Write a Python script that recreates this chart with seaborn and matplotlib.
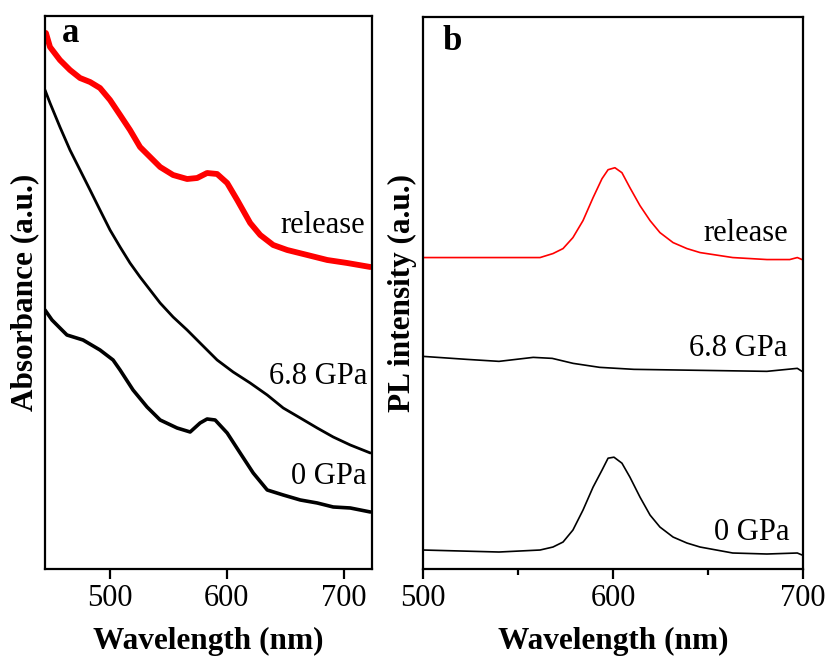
import matplotlib
matplotlib.use("Agg")
import matplotlib.pyplot as plt
import seaborn as sns
import pandas as pd
from matplotlib.ticker import MultipleLocator, FixedLocator

# ---------------- Data ----------------
# Panel a: absorbance (arbitrary units, offset spectra)
abs_release_wl = [445.1, 448.6, 457.1, 465.7, 474.3, 482.9, 491.4, 500.0, 508.6, 517.1,
                  525.7, 534.3, 542.9, 554.0, 566.0, 574.6, 583.1, 591.7, 600.3, 608.9,
                  620.0, 628.6, 639.7, 651.7, 668.9, 686.0, 703.1, 722.9]
abs_release = [536, 522, 509, 499, 491, 487, 481, 469, 454, 439,
               422, 412, 402, 394, 390, 391, 396, 395, 386, 369,
               346, 334, 324, 319, 314, 309, 306, 302]

abs_68_wl = [444.3, 448.6, 457.1, 465.7, 474.3, 482.9, 491.4, 500.0, 508.6, 517.1,
             525.7, 534.3, 542.9, 554.0, 566.0, 577.1, 591.7, 605.4, 620.0, 634.6,
             648.3, 662.9, 677.4, 691.1, 705.7, 722.9]
abs_68 = [479, 466, 442, 419, 399, 379, 359, 339, 322, 306,
          292, 279, 266, 252, 239, 226, 209, 197, 186, 174,
          161, 151, 141, 132, 124, 116]

abs_0_wl = [444.3, 450.3, 457.1, 463.1, 476.9, 491.4, 502.6, 508.6, 519.7, 531.7,
            542.9, 557.4, 568.6, 577.1, 583.1, 590.0, 600.3, 611.4, 622.6, 634.6,
            648.3, 662.9, 677.4, 691.1, 705.7, 722.9]
abs_0 = [259, 249, 241, 234, 229, 219, 209, 199, 179, 162,
         149, 141, 137, 146, 150, 149, 136, 116, 96, 79,
         74, 69, 66, 62, 61, 57]

# Panel b: PL intensity (arbitrary units, offset spectra)
pl_release_wl = [500, 523, 549.5, 561.6, 568.4, 573.7, 578.9, 584.2, 589.5, 594.2,
                 597.4, 601.0, 604.7, 608.9, 614.2, 619.5, 624.7, 631.6, 638.9, 645.8,
                 663, 681, 693, 697, 699.5]
pl_release = [312, 312, 312, 312, 316, 321, 332, 349, 372, 391,
              400, 402, 397, 382, 364, 349, 337, 327, 321, 317,
              312, 310, 310, 312, 310]

pl_68_wl = [500, 523, 540, 558, 568, 579, 593, 611, 646, 681, 697, 699.5]
pl_68 = [213, 210, 208, 212, 211, 206, 202, 200, 199, 198, 201, 198]

pl_0_wl = [500, 540, 561.6, 568.4, 573.7, 578.9, 584.2, 589.5, 594.2, 597.4,
           600.5, 604.7, 608.9, 614.2, 619.5, 624.7, 631.6, 638.9, 645.8,
           663, 681, 697, 699.5]
pl_0 = [19, 17, 19, 22, 27, 39, 59, 82, 99, 111,
        112, 106, 92, 72, 54, 42, 32, 26, 22,
        16, 15, 16, 14]

labels = ["release", "6.8 GPa", "0 GPa"]
xticks_a = [500, 600, 700]
xticks_b = [500, 600, 700]

# ---------------- Style ----------------
sns.set_style("ticks")
plt.rcParams["font.family"] = ["Liberation Serif", "DejaVu Serif"]
plt.rcParams["axes.linewidth"] = 1.6
plt.rcParams["text.color"] = "black"
plt.rcParams["axes.labelcolor"] = "black"
plt.rcParams["xtick.color"] = "black"
plt.rcParams["ytick.color"] = "black"

fig = plt.figure(figsize=(8.27, 6.59), dpi=100)
axa = fig.add_axes([0.0544, 0.1366, 0.3954, 0.8391])
axb = fig.add_axes([0.5115, 0.1366, 0.4595, 0.8376])

RED = "#ff0000"
BLACK = "#000000"

def draw(ax, wl, y, color, lw):
    df = pd.DataFrame({"wl": wl, "y": y})
    sns.lineplot(data=df, x="wl", y="y", ax=ax, color=color, lw=lw,
                 sort=False, estimator=None)

draw(axa, abs_release_wl, abs_release, RED, 4.2)
draw(axa, abs_68_wl, abs_68, BLACK, 2.0)
draw(axa, abs_0_wl, abs_0, BLACK, 2.6)

draw(axb, pl_release_wl, pl_release, RED, 1.2)
draw(axb, pl_68_wl, pl_68, BLACK, 1.2)
draw(axb, pl_0_wl, pl_0, BLACK, 1.2)

axa.set_xlim(444.3, 724.3)
axa.set_ylim(0, 553)
axb.set_xlim(500, 700)
axb.set_ylim(0, 553)

for ax in (axa, axb):
    for s in ax.spines.values():
        s.set_visible(True)
        s.set_linewidth(1.6)
        s.set_color("black")
    ax.set_yticks([])
    ax.set_xlabel("Wavelength (nm)", fontsize=22.5, fontweight="bold", labelpad=10)
    ax.tick_params(axis="x", which="major", direction="out", length=7, width=1.6,
                   labelsize=22, pad=4, colors="black")

axa.xaxis.set_major_locator(FixedLocator(xticks_a))
axb.xaxis.set_major_locator(FixedLocator(xticks_b))
axb.xaxis.set_minor_locator(MultipleLocator(50))
axb.tick_params(axis="x", which="minor", direction="out", length=4.5, width=1.6)

axa.set_ylabel("Absorbance (a.u.)", fontsize=22.5, fontweight="bold", labelpad=4)
axb.set_ylabel("PL intensity (a.u.)", fontsize=22.5, fontweight="bold", labelpad=4)

# curve labels
tfs = 22
axa.text(718.6, 344, labels[0], ha="right", va="center", fontsize=tfs)
axa.text(720, 192, labels[1], ha="right", va="center", fontsize=tfs)
axa.text(720, 92, labels[2], ha="right", va="center", fontsize=tfs)
axb.text(692, 336, labels[0], ha="right", va="center", fontsize=tfs)
axb.text(692, 221, labels[1], ha="right", va="center", fontsize=tfs)
axb.text(693, 37, labels[2], ha="right", va="center", fontsize=tfs)

# panel labels
axa.text(458.5, 536, "a", ha="left", va="center", fontsize=25, fontweight="bold")
axb.text(510, 528, "b", ha="left", va="center", fontsize=25, fontweight="bold")

fig.savefig("out.png", dpi=100)
